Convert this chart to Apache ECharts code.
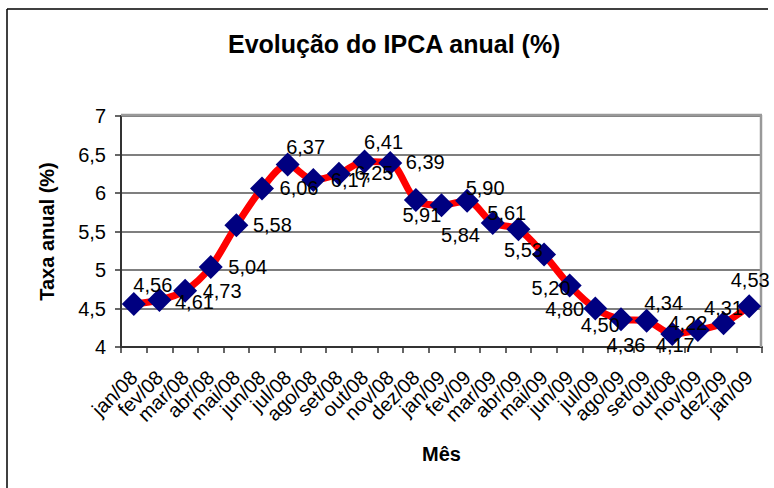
<!DOCTYPE html>
<html>
<head>
<meta charset="utf-8">
<script src="https://cdn.jsdelivr.net/npm/echarts@6/dist/echarts.min.js"></script>
<style>
  html, body { margin: 0; padding: 0; background: #ffffff; }
  #chart { width: 774px; height: 488px; }
</style>
</head>
<body>
<div id="chart"></div>
<script>
// ---- data ----
const titleText = 'Evolução do IPCA anual (%)';
const yAxisTitle = 'Taxa anual (%)';
const xAxisTitle = 'Mês';
const months = ['jan/08','fev/08','mar/08','abr/08','mai/08','jun/08','jul/08','ago/08','set/08','out/08','nov/08','dez/08',
                'jan/09','fev/09','mar/09','abr/09','mai/09','jun/09','jul/09','ago/09','set/09','out/08','nov/09','dez/09','jan/09'];
const ipca = [4.56, 4.61, 4.73, 5.04, 5.58, 6.06, 6.37, 6.17, 6.25, 6.41, 6.39, 5.91,
              5.84, 5.90, 5.61, 5.53, 5.20, 4.80, 4.50, 4.36, 4.34, 4.17, 4.22, 4.31, 4.53];
const yMin = 4, yMax = 7, yStep = 0.5;

// ---- styling: label offsets (px) relative to each marker ----
const labelOffsets = [
  [19,-19],[35,2],[37,0],[37,0],[36,0],[37,0],[18,-18],[37,0],[35,-1],[19,-19],[35,-1],[6,15],
  [19,30],[18,-13],[14,-10],[5,21],[7,33],[-5,24],[5,16],[5,26],[17,-18],[3,11],[-10,-7],[0,-15],[1,-26]
];

const FONT = "'Liberation Sans', Arial, sans-serif";
const fmt = v => {
  const n = Number(v);
  return Number.isInteger(n) ? String(n) : n.toFixed(2).replace(/0$/, '').replace('.', ',');
};

const chart = echarts.init(document.getElementById('chart'), null, { renderer: 'svg' });
chart.setOption({
  backgroundColor: '#ffffff',
  animation: false,
  title: {
    text: titleText,
    left: 228,
    top: 31,
    padding: 0,
    textStyle: { fontFamily: FONT, fontSize: 25, fontWeight: 'bold', color: '#000' }
  },
  graphic: [
    { type: 'line', shape: { x1: 7, y1: 9, x2: 768, y2: 9 }, style: { stroke: '#000', lineWidth: 1.5 }, silent: true },
    { type: 'line', shape: { x1: 7, y1: 9, x2: 7, y2: 488 }, style: { stroke: '#000', lineWidth: 1.5 }, silent: true },
    { type: 'line', shape: { x1: 121, y1: 115, x2: 762, y2: 115 }, style: { stroke: '#999', lineWidth: 2.5 }, silent: true, z: 1 },
    { type: 'line', shape: { x1: 761, y1: 115, x2: 761, y2: 347 }, style: { stroke: '#999', lineWidth: 2.5 }, silent: true, z: 1 }
  ],
  grid: { left: 121, right: 12, top: 116, bottom: 141, containLabel: false },
  xAxis: {
    type: 'category',
    data: months,
    boundaryGap: true,
    name: xAxisTitle,
    nameLocation: 'middle',
    nameGap: 97,
    nameTextStyle: { fontFamily: FONT, fontSize: 20, fontWeight: 'bold', color: '#000' },
    axisLine: { lineStyle: { color: '#333', width: 2 } },
    axisTick: { show: true, alignWithLabel: false, length: 6, lineStyle: { color: '#333', width: 1.5 } },
    axisLabel: {
      rotate: 45,
      interval: 0,
      margin: 27,
      fontFamily: FONT,
      fontSize: 20,
      color: '#000'
    },
    splitLine: { show: false }
  },
  yAxis: {
    type: 'value',
    min: yMin,
    max: yMax,
    interval: yStep,
    name: yAxisTitle,
    nameLocation: 'middle',
    nameGap: 64,
    nameTextStyle: { fontFamily: FONT, fontSize: 20, fontWeight: 'bold', color: '#000' },
    axisLine: { show: true, lineStyle: { color: '#333', width: 2 } },
    axisTick: { show: true, length: 6, lineStyle: { color: '#333', width: 1.5 } },
    axisLabel: {
      margin: 15,
      fontFamily: FONT,
      fontSize: 20,
      color: '#000',
      formatter: v => fmt(v)
    },
    splitLine: { show: true, lineStyle: { color: '#555', width: 1.5 } }
  },
  series: [{
    type: 'line',
    data: ipca,
    smooth: 0.3,
    symbol: 'diamond',
    symbolSize: 24,
    lineStyle: { color: '#ff0000', width: 7 },
    itemStyle: { color: '#000080' },
    z: 3,
    label: {
      show: true,
      position: 'inside',
      fontFamily: FONT,
      fontSize: 20,
      color: '#000',
      formatter: p => Number(p.value).toFixed(2).replace('.', ',')
    },
    labelLayout: p => ({
      dx: labelOffsets[p.dataIndex][0],
      dy: labelOffsets[p.dataIndex][1],
      hideOverlap: false
    })
  }]
});
</script>
</body>
</html>
